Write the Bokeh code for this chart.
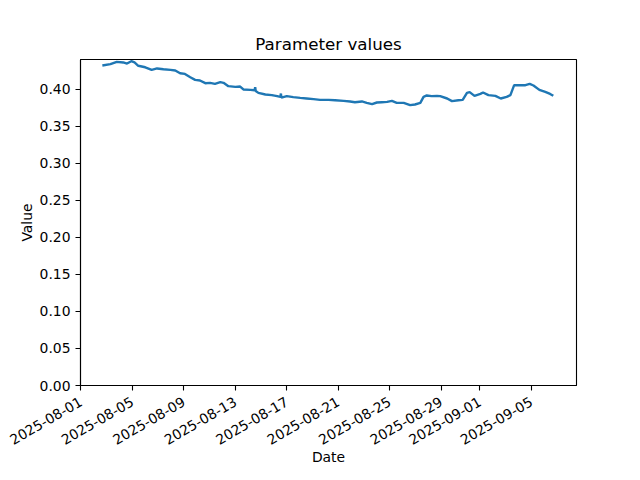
import pandas as pd
from math import pi
from bokeh.plotting import figure
from bokeh.models import Range1d, DaysTicker, DatetimeTickFormatter, FixedTicker, PrintfTickFormatter
from bokeh.embed import file_html
from bokeh.resources import INLINE

title_text = "Parameter values"
x_label = "Date"
y_label = "Value"

dates = [
    "2025-08-02 16:00", "2025-08-03 07:00", "2025-08-03 19:00", "2025-08-04 07:00",
    "2025-08-04 14:00", "2025-08-04 22:00", "2025-08-05 04:00", "2025-08-05 11:00",
    "2025-08-06 00:00", "2025-08-06 12:00", "2025-08-06 22:00", "2025-08-07 10:00",
    "2025-08-07 23:00", "2025-08-08 08:00", "2025-08-08 17:00", "2025-08-09 02:00",
    "2025-08-09 12:00", "2025-08-09 21:00", "2025-08-10 06:00", "2025-08-10 16:00",
    "2025-08-11 01:00", "2025-08-11 10:00", "2025-08-11 20:00", "2025-08-12 02:00",
    "2025-08-12 11:00", "2025-08-13 00:00", "2025-08-13 09:00", "2025-08-13 15:00",
    "2025-08-14 04:00", "2025-08-14 12:00", "2025-08-14 13:00", "2025-08-14 14:00",
    "2025-08-14 19:00", "2025-08-15 08:00", "2025-08-15 20:00", "2025-08-16 06:00",
    "2025-08-16 12:00", "2025-08-16 13:00", "2025-08-16 14:00", "2025-08-17 00:00",
    "2025-08-17 12:00", "2025-08-18 01:00", "2025-08-18 13:00", "2025-08-19 02:00",
    "2025-08-19 14:00", "2025-08-20 06:00", "2025-08-20 18:00", "2025-08-21 10:00",
    "2025-08-21 22:00", "2025-08-22 07:00", "2025-08-22 20:00", "2025-08-23 05:00",
    "2025-08-23 15:00", "2025-08-24 00:00", "2025-08-24 09:00", "2025-08-24 19:00",
    "2025-08-25 04:00", "2025-08-25 13:00", "2025-08-26 02:00", "2025-08-26 14:00",
    "2025-08-26 23:00", "2025-08-27 09:00", "2025-08-27 15:00", "2025-08-27 21:00",
    "2025-08-28 06:00", "2025-08-28 16:00", "2025-08-28 22:00", "2025-08-29 11:00",
    "2025-08-29 20:00", "2025-08-30 08:00", "2025-08-30 16:00", "2025-08-31 00:00",
    "2025-08-31 05:00", "2025-08-31 14:00", "2025-09-01 01:00", "2025-09-01 06:00",
    "2025-09-01 16:00", "2025-09-02 05:00", "2025-09-02 15:00", "2025-09-03 02:00",
    "2025-09-03 09:00", "2025-09-03 16:00", "2025-09-04 03:00", "2025-09-04 13:00",
    "2025-09-04 21:00", "2025-09-05 04:00", "2025-09-05 15:00", "2025-09-06 02:00",
    "2025-09-06 11:00", "2025-09-06 17:00",
]

values = [
    0.4324, 0.4342, 0.4373, 0.4365,
    0.4350, 0.4382, 0.4365, 0.4320,
    0.4300, 0.4265, 0.4284, 0.4274,
    0.4265, 0.4257, 0.4220, 0.4210,
    0.4166, 0.4130, 0.4122, 0.4085,
    0.4089, 0.4076, 0.4099, 0.4090,
    0.4045, 0.4035, 0.4040, 0.4000,
    0.3995, 0.3990, 0.4030, 0.3980,
    0.3954, 0.3932, 0.3923, 0.3910,
    0.3900, 0.3945, 0.3890, 0.3910,
    0.3896, 0.3886, 0.3878, 0.3869,
    0.3860, 0.3860, 0.3855, 0.3846,
    0.3838, 0.3828, 0.3838, 0.3819,
    0.3801, 0.3824, 0.3828, 0.3832,
    0.3846, 0.3819, 0.3819, 0.3788,
    0.3797, 0.3819, 0.3900, 0.3919,
    0.3910, 0.3914, 0.3910, 0.3878,
    0.3842, 0.3855, 0.3860, 0.3954,
    0.3964, 0.3914, 0.3940, 0.3959,
    0.3923, 0.3914, 0.3878, 0.3900,
    0.3923, 0.4058, 0.4058, 0.4058,
    0.4076, 0.4054, 0.3995, 0.3968,
    0.3940, 0.3914,
]

y_ticks = [0.0, 0.05, 0.10, 0.15, 0.20, 0.25, 0.30, 0.35, 0.40]
tick_days = [1, 5, 9, 13, 17, 21, 25, 29]

x = pd.to_datetime(dates)

font = "DejaVu Sans"

p = figure(
    x_axis_type="datetime",
    frame_width=496, frame_height=326,
    min_border_left=80, min_border_right=48,
    min_border_top=59, min_border_bottom=79,
    output_backend="svg", toolbar_location=None,
    title=title_text,
    x_range=Range1d(pd.Timestamp("2025-07-31 23:15"), pd.Timestamp("2025-09-08 12:15")),
    y_range=Range1d(0, 0.4405),
)

p.line(x, values, line_color="#1f77b4", line_width=2.4)

p.title.align = "center"
p.title.text_font = font
p.title.text_font_size = "16.7px"
p.title.text_font_style = "normal"
p.title.text_color = "black"
p.title.standoff = 12

p.xgrid.visible = False
p.ygrid.visible = False
p.outline_line_color = "black"
p.outline_line_width = 1.1
p.outline_line_alpha = 1.0
p.background_fill_color = "white"
p.border_fill_color = "white"

p.xaxis.ticker = DaysTicker(days=tick_days)
p.xaxis.formatter = DatetimeTickFormatter(days="%Y-%m-%d", months="%Y-%m-%d", hours="%Y-%m-%d")
p.xaxis.major_label_orientation = pi / 6
p.yaxis.ticker = FixedTicker(ticks=y_ticks)
p.yaxis.formatter = PrintfTickFormatter(format="%.2f")

for ax in (p.xaxis, p.yaxis):
    ax.axis_line_color = "black"
    ax.axis_line_width = 1.1
    ax.major_tick_line_color = "black"
    ax.major_tick_line_width = 1.1
    ax.major_tick_out = 5
    ax.major_tick_in = 0
    ax.minor_tick_line_color = None
    ax.major_label_text_font = font
    ax.major_label_text_font_size = "13.9px"
    ax.major_label_text_color = "black"
    ax.major_label_standoff = 5
    ax.axis_label_text_font = font
    ax.axis_label_text_font_size = "13.9px"
    ax.axis_label_text_font_style = "normal"
    ax.axis_label_text_color = "black"

p.xaxis.major_label_standoff = 10
p.xaxis.axis_label_standoff = -4
p.yaxis.axis_label_standoff = 2

p.xaxis.axis_label = x_label
p.yaxis.axis_label = y_label

open("out.html", "w").write(file_html(p, INLINE))
